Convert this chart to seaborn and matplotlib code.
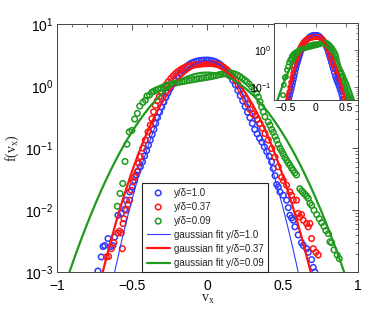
import numpy as np
import pandas as pd
import matplotlib
matplotlib.use("Agg")
import matplotlib.pyplot as plt
from matplotlib.ticker import MultipleLocator, LogLocator, NullFormatter
import seaborn as sns

# ---------------- data ----------------
blue_x = [-0.728, -0.706, -0.694, -0.683, -0.661, -0.643, -0.628, -0.617, -0.595, -0.573,
          -0.550, -0.539, -0.517, -0.500, -0.484, -0.473, -0.462, -0.446, -0.432, -0.418,
          -0.404, -0.392, -0.380, -0.368, -0.356, -0.344, -0.332, -0.318, -0.304, -0.290,
          -0.276, -0.262, -0.248, -0.232, -0.216, -0.200, -0.184, -0.168, -0.152, -0.136,
          -0.120, -0.104, -0.088, -0.072, -0.056, -0.040, -0.024, -0.008, 0.008, 0.024,
          0.040, 0.056, 0.072, 0.088, 0.104, 0.120, 0.136, 0.152, 0.168, 0.186,
          0.202, 0.218, 0.234, 0.250, 0.266, 0.282, 0.298, 0.314, 0.330, 0.346,
          0.362, 0.378, 0.394, 0.410, 0.426, 0.437, 0.449, 0.460, 0.471, 0.482,
          0.504, 0.526, 0.537, 0.548, 0.559, 0.570, 0.581, 0.603, 0.625, 0.637,
          0.659, 0.670, 0.692, 0.703, 0.714]
blue_y = [0.00105, 0.00177, 0.0026, 0.0027, 0.0035, 0.0026, 0.0027, 0.0037, 0.0083, 0.0089,
          0.0103, 0.0145, 0.0197, 0.0238, 0.030, 0.037, 0.043, 0.050, 0.060, 0.075,
          0.092, 0.112, 0.135, 0.165, 0.20, 0.25, 0.31, 0.38, 0.46, 0.55,
          0.66, 0.78, 0.92, 1.08, 1.25, 1.43, 1.60, 1.78, 1.95, 2.10,
          2.24, 2.36, 2.45, 2.52, 2.57, 2.60, 2.62, 2.63, 2.62, 2.59,
          2.53, 2.45, 2.34, 2.20, 2.03, 1.84, 1.64, 1.44, 1.24, 1.05,
          0.85, 0.70, 0.58, 0.47, 0.38, 0.31, 0.25, 0.20, 0.17, 0.145,
          0.125, 0.105, 0.088, 0.074, 0.060, 0.047, 0.036, 0.026, 0.0238, 0.0197,
          0.0174, 0.0145, 0.011, 0.0083, 0.0075, 0.0069, 0.0054, 0.0040, 0.0030, 0.0027,
          0.0024, 0.0021, 0.0016, 0.0012, 0.00101]

red_x = [-0.672, -0.657, -0.639, -0.622, -0.595, -0.584, -0.573, -0.566, -0.561, -0.555,
         -0.539, -0.528, -0.517, -0.506, -0.495, -0.484, -0.466, -0.457, -0.446, -0.429,
         -0.413, -0.395, -0.380, -0.369, -0.358, -0.347, -0.334, -0.320, -0.305, -0.290,
         -0.275, -0.260, -0.244, -0.228, -0.212, -0.196, -0.180, -0.164, -0.148, -0.132,
         -0.116, -0.100, -0.084, -0.068, -0.052, -0.036, -0.020, -0.004, 0.012, 0.028,
         0.044, 0.060, 0.076, 0.092, 0.108, 0.124, 0.140, 0.156, 0.172, 0.188,
         0.204, 0.220, 0.236, 0.252, 0.268, 0.284, 0.300, 0.316, 0.332, 0.349,
         0.365, 0.382, 0.404, 0.427, 0.449, 0.470, 0.493, 0.504, 0.526, 0.548,
         0.559, 0.570, 0.592, 0.603, 0.614, 0.625, 0.637, 0.659, 0.670, 0.681,
         0.692, 0.703, 0.721, 0.736]
red_y = [0.00177, 0.0018, 0.0024, 0.0030, 0.0043, 0.0046, 0.0043, 0.0024, 0.0061, 0.0073,
         0.010, 0.0125, 0.0145, 0.021, 0.0287, 0.034, 0.0415, 0.057, 0.073, 0.10,
         0.135, 0.183, 0.235, 0.30, 0.385, 0.49, 0.58, 0.68, 0.79, 0.92,
         1.05, 1.18, 1.32, 1.46, 1.60, 1.72, 1.83, 1.93, 2.01, 2.08,
         2.13, 2.17, 2.20, 2.23, 2.25, 2.27, 2.29, 2.30, 2.31, 2.30,
         2.28, 2.24, 2.18, 2.10, 2.00, 1.88, 1.73, 1.57, 1.40, 1.22,
         1.05, 0.89, 0.75, 0.62, 0.51, 0.42, 0.36, 0.33, 0.29, 0.25,
         0.21, 0.172, 0.135, 0.099, 0.072, 0.050, 0.034, 0.030, 0.0253, 0.0197,
         0.0174, 0.0145, 0.0145, 0.0089, 0.0078, 0.0085, 0.0069, 0.0061, 0.0054, 0.0061,
         0.0035, 0.0024, 0.0021, 0.0019]

green_x = [-0.599, -0.581, -0.563, -0.548, -0.535, -0.520, -0.502, -0.484, -0.466, -0.450,
           -0.429, -0.413, -0.402, -0.384, -0.369, -0.357, -0.344, -0.328, -0.312, -0.296,
           -0.280, -0.264, -0.248, -0.232, -0.216, -0.200, -0.184, -0.168, -0.152, -0.136,
           -0.120, -0.104, -0.088, -0.072, -0.056, -0.040, -0.024, -0.008, 0.008, 0.024,
           0.040, 0.056, 0.072, 0.088, 0.104, 0.120, 0.136, 0.152, 0.168, 0.184,
           0.200, 0.216, 0.232, 0.248, 0.262, 0.277, 0.294, 0.310, 0.327, 0.338,
           0.349, 0.360, 0.371, 0.382, 0.404, 0.415, 0.427, 0.437, 0.449, 0.460,
           0.470, 0.482, 0.493, 0.504, 0.515, 0.526, 0.537, 0.548, 0.559, 0.570,
           0.581, 0.592, 0.614, 0.626, 0.637, 0.648, 0.659, 0.670, 0.681, 0.692,
           0.708, 0.726, 0.743, 0.759, 0.774, 0.787, 0.803, 0.814, 0.825, 0.841,
           0.862, 0.876]
green_y = [0.0116, 0.0186, 0.027, 0.061, 0.116, 0.183, 0.193, 0.294, 0.363, 0.476,
           0.546, 0.594, 0.69, 0.72, 0.80, 0.82, 0.86, 0.89, 0.92, 0.96,
           1.00, 1.03, 1.06, 1.09, 1.11, 1.14, 1.16, 1.18, 1.20, 1.22,
           1.24, 1.26, 1.28, 1.30, 1.32, 1.34, 1.36, 1.38, 1.40, 1.42,
           1.45, 1.48, 1.51, 1.54, 1.57, 1.60, 1.62, 1.62, 1.60, 1.56,
           1.50, 1.42, 1.33, 1.24, 1.17, 1.08, 0.97, 0.88, 0.77, 0.67,
           0.56, 0.46, 0.385, 0.32, 0.265, 0.235, 0.200, 0.180, 0.155, 0.135,
           0.115, 0.100, 0.090, 0.080, 0.071, 0.064, 0.058, 0.053, 0.048, 0.044,
           0.040, 0.037, 0.0222, 0.0205, 0.0192, 0.0180, 0.0168, 0.0155, 0.0130, 0.0120,
           0.0100, 0.0085, 0.0073, 0.0063, 0.0055, 0.0047, 0.0042, 0.0031, 0.0030, 0.0023,
           0.0019, 0.00166]

series_labels = ["y/δ=1.0", "y/δ=0.37", "y/δ=0.09"]
fit_labels = ["gaussian fit y/δ=1.0", "gaussian fit y/δ=0.37", "gaussian fit y/δ=0.09"]
# gaussian fit parameters: amplitude, mean, sigma
fit_amp = [2.57, 2.25, 1.65]
fit_mu = [-0.007, -0.005, -0.0045]
fit_sigma = [0.154, 0.176, 0.2373]

colors = ["#2b3bff", "#ff1414", "#1f9a1f"]
fit_lw = [0.8, 1.6, 1.6]

# ---------------- figure ----------------
sns.set_style("white")
plt.rcParams["font.family"] = ["Liberation Sans", "DejaVu Sans"]
plt.rcParams["mathtext.default"] = "regular"

fig = plt.figure(figsize=(3.74, 3.16), dpi=100)
ax = fig.add_axes([0.1524, 0.1383, 0.8046, 0.7857])

xs_data = [blue_x, red_x, green_x]
ys_data = [blue_y, red_y, green_y]

xx = np.linspace(-1.0, 1.0, 801)


def draw(a, with_labels, ms):
    for xd, yd, c, lab in zip(xs_data, ys_data, colors, series_labels):
        df = pd.DataFrame({"x": xd, "y": yd})
        sns.scatterplot(data=df, x="x", y="y", ax=a, marker="o", s=ms,
                        facecolors="none", edgecolor=c, color=c, linewidth=1.1,
                        label=lab if with_labels else None, legend=False, zorder=3)
    for A, mu, sg, c, lw, lab in zip(fit_amp, fit_mu, fit_sigma, colors, fit_lw, fit_labels):
        dff = pd.DataFrame({"x": xx, "y": A * np.exp(-(xx - mu) ** 2 / (2 * sg ** 2))})
        sns.lineplot(data=dff, x="x", y="y", ax=a, color=c, linewidth=lw,
                     label=lab if with_labels else None, legend=False, zorder=4,
                     estimator=None, sort=False)


draw(ax, True, 16)
ax.set_yscale("log")
ax.set_xlim(-1, 1)
ax.set_ylim(1e-3, 10)
ax.xaxis.set_minor_locator(MultipleLocator(0.1))
ax.set_xticks([-1, -0.5, 0, 0.5, 1])
ax.set_xticklabels(["\u22121", "\u22120.5", "0", "0.5", "1"])
ax.yaxis.set_major_locator(LogLocator(base=10, numticks=10))
ax.yaxis.set_minor_locator(LogLocator(base=10, subs=np.arange(2, 10), numticks=10))
ax.yaxis.set_minor_formatter(NullFormatter())
ax.tick_params(which="both", direction="in", top=True, right=True, labelsize=10,
               colors="#333333", labelcolor="black")
ax.tick_params(axis="x", pad=4.5)
ax.tick_params(axis="y", pad=2.5)
ax.tick_params(which="major", length=4, width=0.6)
ax.tick_params(which="minor", length=2, width=0.5)
for sp in ax.spines.values():
    sp.set_color("#444444")
    sp.set_linewidth(0.7)

ax.set_xlabel(r"v$_{\mathregular{x}}$", fontsize=10, family="Liberation Serif", labelpad=0)
ax.set_ylabel(r"f(v$_{\mathregular{x}}$)", fontsize=10, family="Liberation Serif", labelpad=3)

handles, labels = ax.get_legend_handles_labels()
leg = ax.legend(handles, labels, loc="lower left", bbox_to_anchor=(0.283, 0.0),
                fontsize=7, frameon=True, fancybox=False, edgecolor="#222222",
                framealpha=1, borderpad=0.45, labelspacing=0.42, handlelength=2.4,
                handletextpad=0.45, borderaxespad=0.0, scatterpoints=1)
leg.get_frame().set_linewidth(0.8)
leg.set_zorder(10)

# inset
axi = fig.add_axes([0.7326, 0.6835, 0.2246, 0.2435])
draw(axi, False, 10)
axi.set_yscale("log")
axi.set_xlim(-0.7, 0.7)
axi.set_ylim(0.045, 5.5)
axi.set_xticks([-0.5, 0, 0.5])
axi.set_xticklabels(["\u22120.5", "0", "0.5"])
axi.yaxis.set_major_locator(LogLocator(base=10, numticks=10))
axi.yaxis.set_minor_locator(LogLocator(base=10, subs=np.arange(2, 10), numticks=10))
axi.yaxis.set_minor_formatter(NullFormatter())
axi.tick_params(which="both", direction="in", top=True, right=True, labelsize=7.5, pad=2,
                colors="#333333", labelcolor="black")
axi.tick_params(which="major", length=3, width=0.5)
axi.tick_params(which="minor", length=1.5, width=0.4)
axi.set_xlabel("")
axi.set_ylabel("")
for sp in axi.spines.values():
    sp.set_color("#444444")
    sp.set_linewidth(0.7)

fig.savefig("out.png", dpi=100)
